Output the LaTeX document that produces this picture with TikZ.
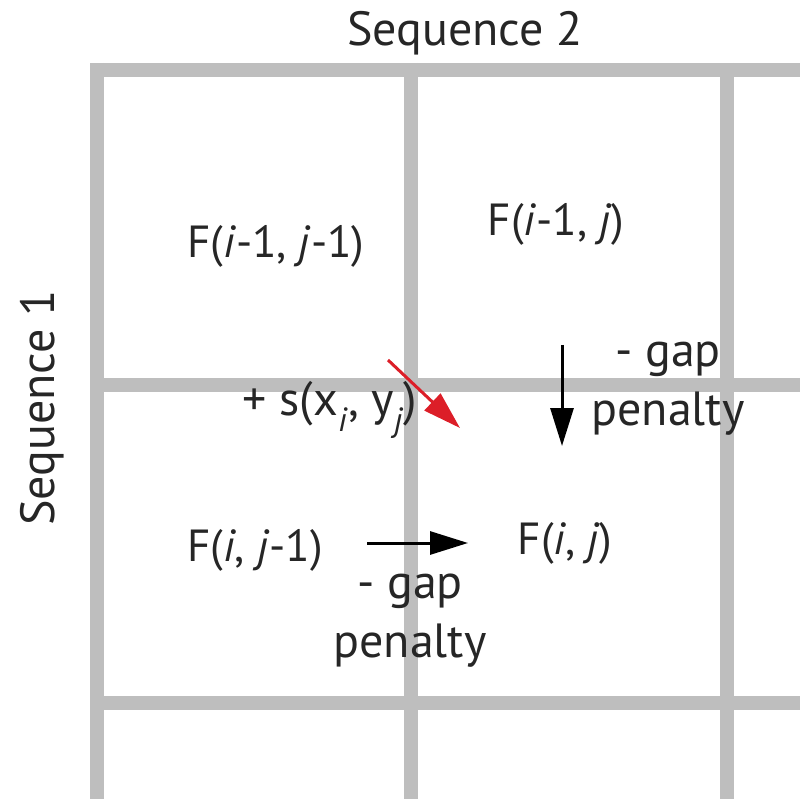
\documentclass[tikz,border=0pt]{standalone}
\usepackage{fontspec}
\setmainfont{PT Sans}
\usetikzlibrary{arrows.meta}
\begin{document}
\begin{tikzpicture}[x=1pt,y=-1pt,
  grid/.style={line width=14pt, color=gridgray},
  lbl/.style={font=\fontsize{45}{56}\selectfont, inner sep=0pt, text=black!85},
  big/.style={lbl, font=\fontsize{48}{59}\selectfont},
  arr/.style={line width=3pt, -{Triangle[length=38pt,width=23pt]}}]
\definecolor{gridgray}{RGB}{190,190,190}
\definecolor{arrred}{RGB}{220,30,40}
\useasboundingbox (0,0) rectangle (800,799);
% grid
\draw[grid] (90,70) -- (800,70);
\draw[grid] (90,385) -- (800,385);
\draw[grid] (90,703) -- (800,703);
\draw[grid] (97,63) -- (97,799);
\draw[grid] (411,63) -- (411,799);
\draw[grid] (727,63) -- (727,799);
% labels
\node[big] (seq2) at (465,33) {Sequence 2};
\node[big, rotate=90] (seq1) at (42,408) {Sequence 1};
\node[lbl] (fa) at (276,246) {F(\textit{i}-1, \textit{j}-1)};
\node[lbl] (fb) at (556,224) {F(\textit{i}-1, \textit{j})};
\node[lbl] (fc) at (255,550) {F(\textit{i}, \textit{j}-1)};
\node[lbl] (fd) at (565,543) {F(\textit{i}, \textit{j})};
\node[big] (s) at (330,410) {+ s(x\textsubscript{\textit{i}}, y\textsubscript{\textit{j}})};
\node[big, align=center] (gp1) at (668,389) {- gap\\penalty};
\node[big, align=center] (gp2) at (410,621) {- gap\\penalty};
% arrows
\coordinate (r1) at (388,360);
\coordinate (r2) at (460,428);
\coordinate (d1) at (562,345);
\coordinate (d2) at (562,446);
\coordinate (h1) at (367,543);
\coordinate (h2) at (468,543);
\draw[arr, color=arrred] (r1) -- (r2);
\draw[arr] (d1) -- (d2);
\draw[arr] (h1) -- (h2);
\end{tikzpicture}
\end{document}
